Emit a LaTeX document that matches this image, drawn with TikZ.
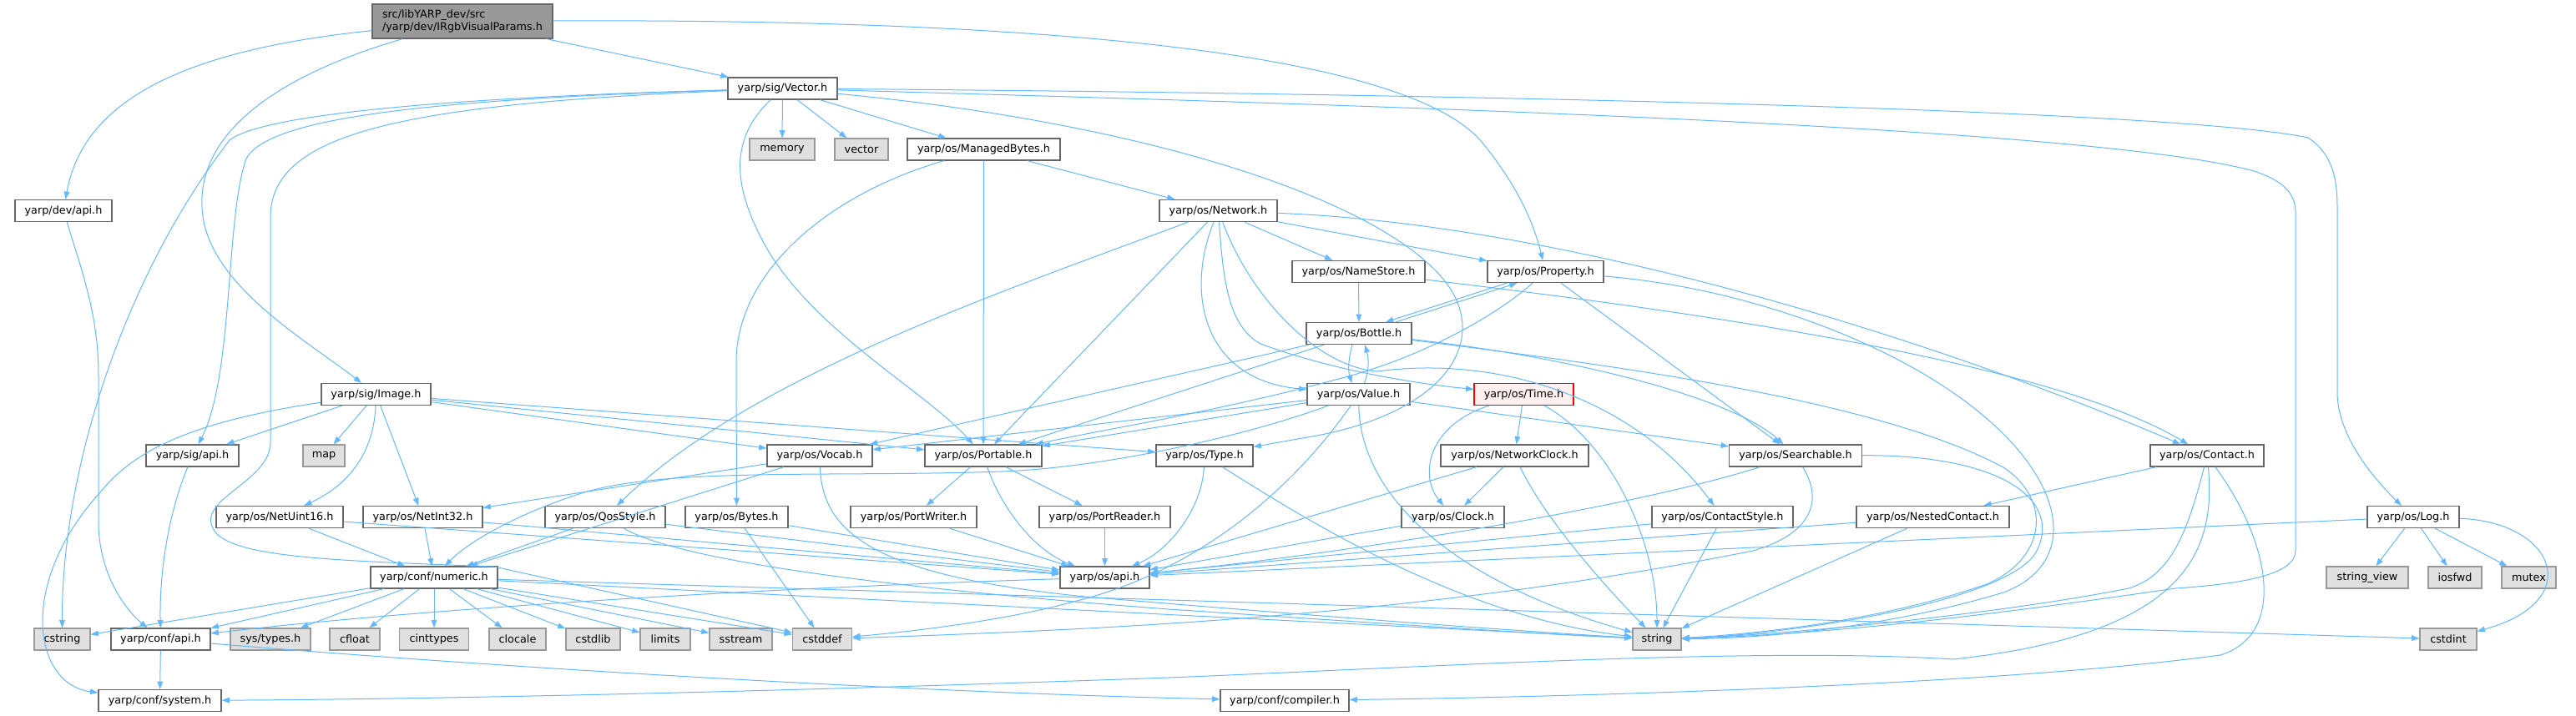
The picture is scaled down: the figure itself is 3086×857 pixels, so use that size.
\documentclass[tikz,border=0pt]{standalone}
\usepackage{fontspec}
\setmainfont{DejaVu Sans}
\usetikzlibrary{arrows.meta,calc}
\definecolor{edgec}{HTML}{63B8FF}
\definecolor{bordc}{HTML}{666666}
\definecolor{extb}{HTML}{999999}
\definecolor{extf}{HTML}{E0E0E0}
\definecolor{mainf}{HTML}{999999}
\definecolor{timef}{HTML}{FFF0F0}
\newcommand{\nfs}{\fontsize{9.6}{11.5}\selectfont}
\tikzset{
  box/.style={draw=bordc, fill=white, line width=0.9pt, minimum height=26*0.75pt, inner sep=0pt, font=\nfs},
  ext/.style={box, draw=extb, fill=extf},
  wd/.style={minimum width=#1*0.75pt},
  edge/.style={draw=edgec, line width=0.75pt, -{Triangle[length=7pt,width=5pt]}}
}
\begin{document}
\begin{tikzpicture}[x=0.75pt,y=-0.75pt]
\useasboundingbox (0,0) rectangle (3086,857);
% nodes
\node[box, fill=mainf, wd=216, minimum height=41*0.75pt, align=left] (main) at (554,25.5) {src/libYARP\_dev/src\\/yarp/dev/IRgbVisualParams.h};
\node[box, wd=116] (devapi) at (76,252.5) {yarp/dev/api.h};
\node[box, wd=131] (vector) at (937.5,106) {yarp/sig/Vector.h};
\node[ext, wd=78] (memory) at (937,179) {memory};
\node[ext, wd=64] (vectorstd) at (1032,179) {vector};
\node[box, wd=183] (managed) at (1178.5,179) {yarp/os/ManagedBytes.h};
\node[box, wd=141] (network) at (1459.5,252.5) {yarp/os/Network.h};
\node[box, wd=159] (namestore) at (1627.5,325.5) {yarp/os/NameStore.h};
\node[box, wd=139] (property) at (1851.5,325.5) {yarp/os/Property.h};
\node[box, wd=126] (bottle) at (1628,399.5) {yarp/os/Bottle.h};
\node[box, wd=123] (value) at (1627.5,472.5) {yarp/os/Value.h};
\node[box, draw=red, fill=timef, wd=119] (time) at (1825.5,472.5) {yarp/os/Time.h};
\node[box, wd=131] (image) at (450.5,472.5) {yarp/sig/Image.h};
\node[box, wd=111] (sigapi) at (230.5,546) {yarp/sig/api.h};
\node[ext, wd=50] (map) at (388,546) {map};
\node[box, wd=126] (vocab) at (982,546) {yarp/os/Vocab.h};
\node[box, wd=140] (portable) at (1178,546) {yarp/os/Portable.h};
\node[box, wd=116] (type) at (1443,546) {yarp/os/Type.h};
\node[box, wd=177] (networkclock) at (1814.5,546) {yarp/os/NetworkClock.h};
\node[box, wd=159] (searchable) at (2151,546) {yarp/os/Searchable.h};
\node[box, wd=136] (contact) at (2644,546) {yarp/os/Contact.h};
\node[box, wd=152] (netuint16) at (335,619.5) {yarp/os/NetUint16.h};
\node[box, wd=143] (netint32) at (506.5,619.5) {yarp/os/NetInt32.h};
\node[box, wd=144] (qosstyle) at (725,619.5) {yarp/os/QosStyle.h};
\node[box, wd=123] (bytes) at (882.5,619.5) {yarp/os/Bytes.h};
\node[box, wd=151] (portwriter) at (1094.5,619.5) {yarp/os/PortWriter.h};
\node[box, wd=157] (portreader) at (1323.5,619.5) {yarp/os/PortReader.h};
\node[box, wd=123] (clock) at (1740.5,619.5) {yarp/os/Clock.h};
\node[box, wd=169] (contactstyle) at (2063.5,619.5) {yarp/os/ContactStyle.h};
\node[box, wd=183] (nested) at (2315.5,619.5) {yarp/os/NestedContact.h};
\node[box, wd=110] (log) at (2891,619.5) {yarp/os/Log.h};
\node[box, wd=152] (numeric) at (520,692) {yarp/conf/numeric.h};
\node[box, wd=107] (osapi) at (1323.5,692) {yarp/os/api.h};
\node[ext, wd=98] (stringview) at (2836,692) {string\_view};
\node[ext, wd=64] (iosfwd) at (2941,692) {iosfwd};
\node[ext, wd=65] (mutex) at (3029.5,692) {mutex};
\node[ext, wd=67] (cstring) at (74.5,766) {cstring};
\node[box, wd=119] (confapi) at (192.5,766) {yarp/conf/api.h};
\node[ext, wd=96] (systypes) at (324,766) {sys/types.h};
\node[ext, wd=60] (cfloat) at (425,766) {cfloat};
\node[ext, wd=83] (cinttypes) at (520,766) {cinttypes};
\node[ext, wd=68] (clocale) at (620,766) {clocale};
\node[ext, wd=65] (cstdlib) at (710.5,766) {cstdlib};
\node[ext, wd=60] (limits) at (797,766) {limits};
\node[ext, wd=75] (sstream) at (887.5,766) {sstream};
\node[ext, wd=71] (cstddef) at (985,766) {cstddef};
\node[ext, wd=58] (string) at (1985,766) {string};
\node[ext, wd=68] (cstdint) at (2933,766) {cstdint};
\node[box, wd=147] (system) at (191.5,839.5) {yarp/conf/system.h};
\node[box, wd=154] (compiler) at (1539,839.5) {yarp/conf/compiler.h};
% main
\draw[edge] (main) .. controls (220,60) and (100,120) .. (devapi);
\draw[edge] (main) .. controls (300,100) and (225,180) .. (245,270) .. controls (265,350) and (370,410) .. (image);
\draw[edge] (main) -- (vector);
\draw[edge] (main) .. controls (1300,22) and (1690,70) .. (1775,170) .. controls (1820,225) and (1838,270) .. (property);
% vector
\draw[edge] (vector) .. controls (500,118) and (310,140) .. (275,168) .. controls (150,330) and (74,560) .. (cstring);
\draw[edge] (vector) .. controls (480,120) and (320,145) .. (295,190) .. controls (270,260) and (280,450) .. (sigapi);
\draw[edge] (vector) .. controls (480,125) and (324,160) .. (324,260) -- (324,530) .. controls (324,580) and (225,600) .. (260,640) .. controls (290,668) and (400,672) .. (592,679) -- (cstddef);
\draw[edge] (vector) -- (memory);
\draw[edge] (vector) -- (vectorstd);
\draw[edge] (vector) -- (managed);
\draw[edge] (vector) .. controls (870,170) and (880,230) .. (920,300) .. controls (980,400) and (1110,470) .. (portable);
\draw[edge] (vector) .. controls (1600,125) and (2500,150) .. (2700,205) .. controls (2740,218) and (2750,235) .. (2750,255) -- (2750,660) .. controls (2750,690) and (2680,700) .. (2606,705) .. controls (2400,735) and (2200,760) .. (string);
\draw[edge] (vector) .. controls (1700,112) and (2600,130) .. (2765,165) .. controls (2795,185) and (2800,215) .. (2800,250) -- (2800,470) .. controls (2800,520) and (2840,570) .. (log);
\draw[edge] (vector) .. controls (1400,150) and (1680,250) .. (1740,350) .. controls (1780,420) and (1720,500) .. (1560,525) -- (type);
% image
\draw[edge] (image) .. controls (230,505) and (160,540) .. (120,590) .. controls (20,700) and (40,820) .. (system);
\draw[edge] (image) -- (sigapi);
\draw[edge] (image) -- (map);
\draw[edge] (image) .. controls (448,540) and (420,580) .. (netuint16);
\draw[edge] (image) -- (netint32);
\draw[edge] (image) -- (vocab);
\draw[edge] (image) -- (portable);
\draw[edge] (image) -- (type);
% managed
\draw[edge] (managed) .. controls (1000,230) and (885,320) .. (882,430) -- (bytes);
\draw[edge] (managed) -- (portable);
\draw[edge] (managed) -- (network);
% network
\draw[edge] (network) .. controls (1200,350) and (900,450) .. (qosstyle);
\draw[edge] (network) -- (portable);
\draw[edge] (network) .. controls (1420,350) and (1440,455) .. (value);
\draw[edge] (network) .. controls (1465,330) and (1470,390) .. (1510,412) .. controls (1600,445) and (1700,460) .. (time);
\draw[edge] (network) .. controls (1500,360) and (1580,440) .. (1650,445) .. controls (1800,425) and (1960,480) .. (contactstyle);
\draw[edge] (network) -- (namestore);
\draw[edge] (network) -- (property);
\draw[edge] (network) .. controls (1900,270) and (2350,420) .. (contact);
% namestore
\draw[edge] (namestore) -- (bottle);
\draw[edge] (namestore) .. controls (2000,370) and (2450,430) .. (contact);
% property / bottle
\draw[edge] ($(property.south)+(-46,0)$) -- ($(bottle.north)+(32,0)$);
\draw[edge] ($(bottle.north)+(44,0)$) -- ($(property.south)+(-34,0)$);
\draw[edge] (property) .. controls (1790,380) and (1700,430) .. (1600,455) .. controls (1450,495) and (1320,515) .. (portable);
\draw[edge] (property) -- (searchable);
\draw[edge] (property) .. controls (2100,345) and (2300,420) .. (2400,520) .. controls (2480,600) and (2480,680) .. (2400,710) .. controls (2250,755) and (2100,765) .. (string);
\draw[edge] ($(bottle.south)+(-8,0)$) .. controls (1615,430) and (1615,445) .. ($(value.north)+(-8,0)$);
\draw[edge] ($(value.north)+(7,0)$) .. controls (1640,445) and (1640,430) .. ($(bottle.south)+(7,0)$);
\draw[edge] (bottle) -- (vocab);
\draw[edge] (bottle) -- (portable);
\draw[edge] (bottle) .. controls (1900,430) and (2080,480) .. (searchable);
\draw[edge] (bottle) .. controls (1950,440) and (2250,480) .. (2400,560) .. controls (2460,600) and (2450,670) .. (2380,700) .. controls (2250,745) and (2100,760) .. (string);
% value
\draw[edge] (value) -- (vocab);
\draw[edge] (value) -- (portable);
\draw[edge] (value) .. controls (1500,520) and (1330,560) .. (1200,565) .. controls (1000,572) and (800,560) .. (700,590) .. controls (620,615) and (560,650) .. (numeric);
\draw[edge] (value) .. controls (1560,570) and (1450,680) .. (1290,720) .. controls (1200,745) and (1080,758) .. (cstddef);
\draw[edge] (value) .. controls (1630,600) and (1750,700) .. (string);
\draw[edge] (value) -- (searchable);
% time
\draw[edge] (time) .. controls (1710,510) and (1700,570) .. (clock);
\draw[edge] (time) -- (networkclock);
\draw[edge] (time) .. controls (1930,530) and (1985,650) .. (string);
\draw[edge] (networkclock) -- (clock);
\draw[edge] (networkclock) .. controls (1850,620) and (1920,700) .. (string);
\draw[edge] (networkclock) -- (osapi);
\draw[edge] (clock) -- (osapi);
% searchable
\draw[edge] (searchable) .. controls (1950,610) and (1600,665) .. (osapi);
\draw[edge] (searchable) .. controls (2185,600) and (2170,640) .. (2100,660) .. controls (1700,740) and (1300,755) .. (cstddef);
\draw[edge] (searchable) .. controls (2400,545) and (2470,600) .. (2440,660) .. controls (2410,720) and (2150,760) .. (string);
% contact
\draw[edge] (contact) -- (nested);
\draw[edge] (contact) .. controls (2620,640) and (2600,690) .. (2550,705) .. controls (2400,735) and (2150,760) .. (string);
\draw[edge] (contact) .. controls (2655,660) and (2620,760) .. (2340,790) .. controls (2100,775) and (1700,800) .. (1400,812) .. controls (900,830) and (500,838) .. (system);
\draw[edge] (contact) .. controls (2720,650) and (2740,760) .. (2660,785) .. controls (2400,820) and (1900,835) .. (compiler);
\draw[edge] (contactstyle) -- (osapi);
\draw[edge] (contactstyle) -- (string);
\draw[edge] (nested) -- (osapi);
\draw[edge] (nested) -- (string);
% log
\draw[edge] (log) -- (osapi);
\draw[edge] (log) -- (stringview);
\draw[edge] (log) -- (iosfwd);
\draw[edge] (log) -- (mutex);
\draw[edge] (log) .. controls (3060,625) and (3100,720) .. (cstdint);
% type / portable
\draw[edge] (type) .. controls (1440,610) and (1400,660) .. (osapi);
\draw[edge] (type) .. controls (1560,620) and (1750,740) .. (string);
\draw[edge] (portable) -- (portwriter);
\draw[edge] (portable) -- (portreader);
\draw[edge] (portable) .. controls (1200,610) and (1240,660) .. (osapi);
\draw[edge] (portwriter) -- (osapi);
\draw[edge] (portreader) -- (osapi);
% vocab
\draw[edge] (vocab) -- (numeric);
\draw[edge] (vocab) -- (netint32);
\draw[edge] (vocab) .. controls (985,640) and (1050,690) .. (1300,715) .. controls (1600,740) and (1800,755) .. (string);
% net / qos / bytes
\draw[edge] (netuint16) -- (numeric);
\draw[edge] (netuint16) -- (osapi);
\draw[edge] (netint32) -- (numeric);
\draw[edge] (netint32) -- (osapi);
\draw[edge] (qosstyle) -- (numeric);
\draw[edge] (qosstyle) -- (osapi);
\draw[edge] (qosstyle) .. controls (800,665) and (1000,700) .. (1400,730) .. controls (1700,750) and (1850,760) .. (string);
\draw[edge] (bytes) -- (osapi);
\draw[edge] (bytes) -- (cstddef);
% numeric
\draw[edge] (numeric) -- (cstring);
\draw[edge] (numeric) -- (confapi);
\draw[edge] (numeric) -- (systypes);
\draw[edge] (numeric) -- (cfloat);
\draw[edge] (numeric) -- (cinttypes);
\draw[edge] (numeric) -- (clocale);
\draw[edge] (numeric) -- (cstdlib);
\draw[edge] (numeric) -- (limits);
\draw[edge] (numeric) -- (sstream);
\draw[edge] (numeric) -- (cstddef);
\draw[edge] (numeric) -- (string);
\draw[edge] (numeric) -- (cstdint);
% api
\draw[edge] (osapi) .. controls (900,705) and (500,730) .. (confapi);
\draw[edge] (confapi) -- (system);
\draw[edge] (confapi) .. controls (600,800) and (1100,830) .. (compiler);
\draw[edge] (devapi) .. controls (100,330) and (118,380) .. (118,450) -- (118,630) .. controls (120,690) and (150,730) .. (confapi);
\draw[edge] (sigapi) .. controls (200,620) and (191,690) .. (confapi);
\end{tikzpicture}
\end{document}
